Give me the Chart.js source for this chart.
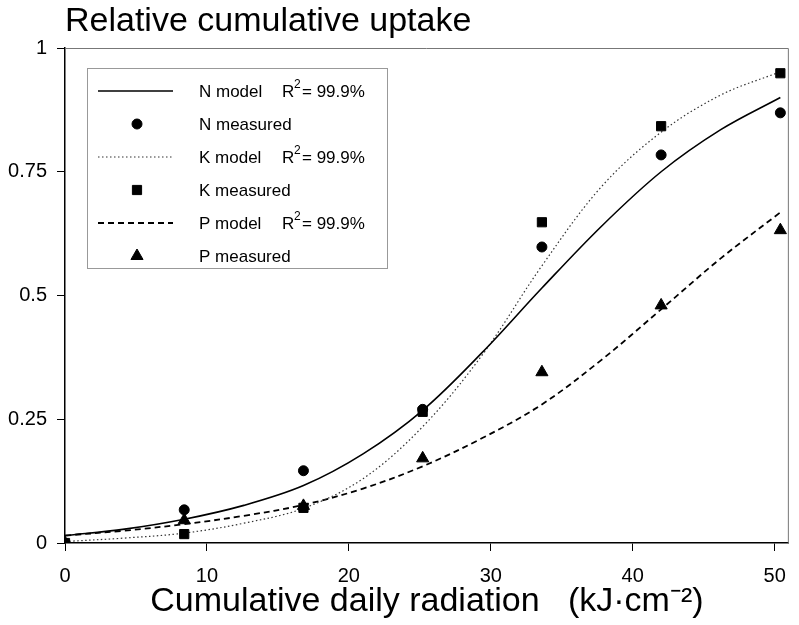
<!DOCTYPE html>
<html><head><meta charset="utf-8">
<script src="https://cdn.jsdelivr.net/npm/chart.js@4/dist/chart.umd.min.js"></script>
<style>html,body{margin:0;padding:0;background:#fff;}</style>
</head><body>
<canvas id="c" width="799" height="625"></canvas>
<script>
// ---- data ----
const xMeasured = [0, 8.4, 16.8, 25.2, 33.6, 42, 50.4];
const nMeasured = [0, 0.067, 0.146, 0.27, 0.598, 0.784, 0.869];
const kMeasured = [0, 0.018, 0.071, 0.265, 0.648, 0.842, 0.949];
const pMeasured = [0, 0.046, 0.075, 0.171, 0.345, 0.48, 0.632];

const xModel = [0, 4.2, 8.4, 12.6, 16.8, 21, 25.2, 29.4, 33.6, 37.8, 42, 46.2, 50.4];
const nModel = [0.015, 0.028, 0.048, 0.076, 0.116, 0.18, 0.268, 0.385, 0.515, 0.64, 0.75, 0.835, 0.90];
const kModel = [0.003, 0.01, 0.02, 0.04, 0.07, 0.13, 0.235, 0.38, 0.56, 0.72, 0.83, 0.905, 0.952];
const pModel = [0.015, 0.025, 0.038, 0.055, 0.077, 0.11, 0.155, 0.212, 0.28, 0.37, 0.472, 0.575, 0.668];

const xTicks = [0, 10, 20, 30, 40, 50];
const yTicks = [0, 0.25, 0.5, 0.75, 1];
const yTickLabels = ['0', '0.25', '0.5', '0.75', '1'];

const titleText = 'Relative cumulative uptake';
const xTitleText = 'Cumulative daily radiation   (kJ\u00B7cm\u207B\u00B2)';
const legendNames = ['N model', 'N measured', 'K model', 'K measured', 'P model', 'P measured'];
const r2Text = '99.9%';

const pts = (xs, ys) => xs.map((x, i) => ({x: x, y: ys[i]}));
const FONT = "'Liberation Sans', Arial, Helvetica, sans-serif";

const lineStyle = {
  solid: {borderColor: '#000', borderWidth: 1.6, borderDash: []},
  dotted: {borderColor: '#333', borderWidth: 1.2, borderDash: [1.5, 2.5]},
  dashed: {borderColor: '#000', borderWidth: 1.8, borderDash: [6, 4]}
};

const curveOpts = {showLine: true, pointRadius: 0, tension: 0.35, fill: false, order: 3};

const datasets = [
  Object.assign({label: legendNames[0], data: pts(xModel, nModel)}, curveOpts, lineStyle.solid),
  Object.assign({label: legendNames[2], data: pts(xModel, kModel)}, curveOpts, lineStyle.dotted),
  Object.assign({label: legendNames[4], data: pts(xModel, pModel)}, curveOpts, lineStyle.dashed),
  {label: legendNames[1], data: pts(xMeasured, nMeasured), showLine: false, pointStyle: 'circle', pointRadius: 5, backgroundColor: '#000', borderColor: '#000', borderWidth: 1, order: 1},
  {label: legendNames[3], data: pts(xMeasured, kMeasured), showLine: false, pointStyle: 'rect', pointRadius: 6.5, backgroundColor: '#000', borderColor: '#000', borderWidth: 1, order: 1},
  {label: legendNames[5], data: pts(xMeasured, pMeasured), showLine: false, pointStyle: 'triangle', pointRadius: 7, backgroundColor: '#000', borderColor: '#000', borderWidth: 1, order: 1}
];

const legendRows = [
  {name: legendNames[0], kind: 'line', style: lineStyle.solid, r2: true},
  {name: legendNames[1], kind: 'point', pointStyle: 'circle', radius: 5},
  {name: legendNames[2], kind: 'line', style: lineStyle.dotted, r2: true},
  {name: legendNames[3], kind: 'point', pointStyle: 'rect', radius: 6.5},
  {name: legendNames[4], kind: 'line', style: lineStyle.dashed, r2: true},
  {name: legendNames[5], kind: 'point', pointStyle: 'triangle', radius: 7}
];

const framePlugin = {
  id: 'frameAndLegend',
  afterDraw(chart) {
    const ctx = chart.ctx;
    const a = chart.chartArea;
    ctx.save();
    ctx.strokeStyle = '#777';
    ctx.lineWidth = 1;
    ctx.setLineDash([]);
    ctx.beginPath();
    ctx.moveTo(a.left, a.top + 0.5);
    ctx.lineTo(a.right - 0.5, a.top + 0.5);
    ctx.lineTo(a.right - 0.5, a.bottom);
    ctx.stroke();

    const bx = 87, by = 68, bw = 300, bh = 200;
    ctx.strokeStyle = '#999';
    ctx.lineWidth = 1;
    ctx.strokeRect(bx + 0.5, by + 0.5, bw, bh);

    const rowY0 = 91, rowStep = 33;
    ctx.fillStyle = '#000';
    ctx.textBaseline = 'middle';
    ctx.textAlign = 'left';
    legendRows.forEach((row, i) => {
      const y = rowY0 + i * rowStep;
      if (row.kind === 'line') {
        ctx.save();
        ctx.strokeStyle = row.style.borderColor;
        ctx.lineWidth = row.style.borderWidth;
        ctx.setLineDash(row.style.borderDash);
        ctx.beginPath();
        ctx.moveTo(98, y);
        ctx.lineTo(173, y);
        ctx.stroke();
        ctx.restore();
      } else {
        ctx.save();
        ctx.fillStyle = '#000';
        ctx.strokeStyle = '#000';
        Chart.helpers.drawPoint(ctx, {pointStyle: row.pointStyle, radius: row.radius, rotation: 0, borderWidth: 1}, 137, y);
        ctx.restore();
      }
      ctx.font = '17px ' + FONT;
      ctx.fillStyle = '#000';
      ctx.fillText(row.name, 199, y + 1);
      if (row.r2) {
        ctx.fillText('R', 282, y + 1);
        ctx.font = '12px ' + FONT;
        ctx.fillText('2', 294, y - 6);
        ctx.font = '17px ' + FONT;
        ctx.fillText('= ' + r2Text, 302, y + 1);
      }
    });
    ctx.restore();
  }
};

new Chart(document.getElementById('c'), {
  type: 'scatter',
  data: {datasets: datasets},
  plugins: [framePlugin],
  options: {
    responsive: false,
    animation: false,
    devicePixelRatio: 1,
    layout: {padding: {left: 0, right: 2, top: 0, bottom: 0}},
    plugins: {
      legend: {display: false},
      tooltip: {enabled: false},
      title: {
        display: true,
        text: titleText,
        align: 'start',
        fullSize: false,
        color: '#000',
        font: {family: FONT, size: 34, weight: 'normal', lineHeight: 1},
        padding: {top: 5, bottom: 9}
      }
    },
    scales: {
      x: {
        type: 'linear',
        min: 0, max: 51,
        afterBuildTicks: s => { s.ticks = xTicks.map(v => ({value: v})); },
        afterFit: s => { s.height = 82; },
        border: {display: true, color: '#000', width: 1.5},
        grid: {display: true, drawOnChartArea: false, drawTicks: true, tickLength: 8, color: '#000', lineWidth: 1},
        ticks: {color: '#000', padding: 13, font: {family: FONT, size: 20}, callback: v => String(v), maxRotation: 0},
        title: {display: true, text: xTitleText, color: '#000', font: {family: FONT, size: 34, lineHeight: 1}, padding: {top: 0, bottom: 6}}
      },
      y: {
        type: 'linear',
        min: 0, max: 1,
        afterBuildTicks: s => { s.ticks = yTicks.map(v => ({value: v})); },
        afterFit: s => { s.width = 65; },
        border: {display: true, color: '#000', width: 1.5},
        grid: {display: true, drawOnChartArea: false, drawTicks: true, tickLength: 8, color: '#000', lineWidth: 1},
        ticks: {color: '#000', padding: 10, font: {family: FONT, size: 20}, callback: (v) => yTickLabels[yTicks.indexOf(v)] ?? ''}
      }
    }
  }
});
</script>
</body></html>
